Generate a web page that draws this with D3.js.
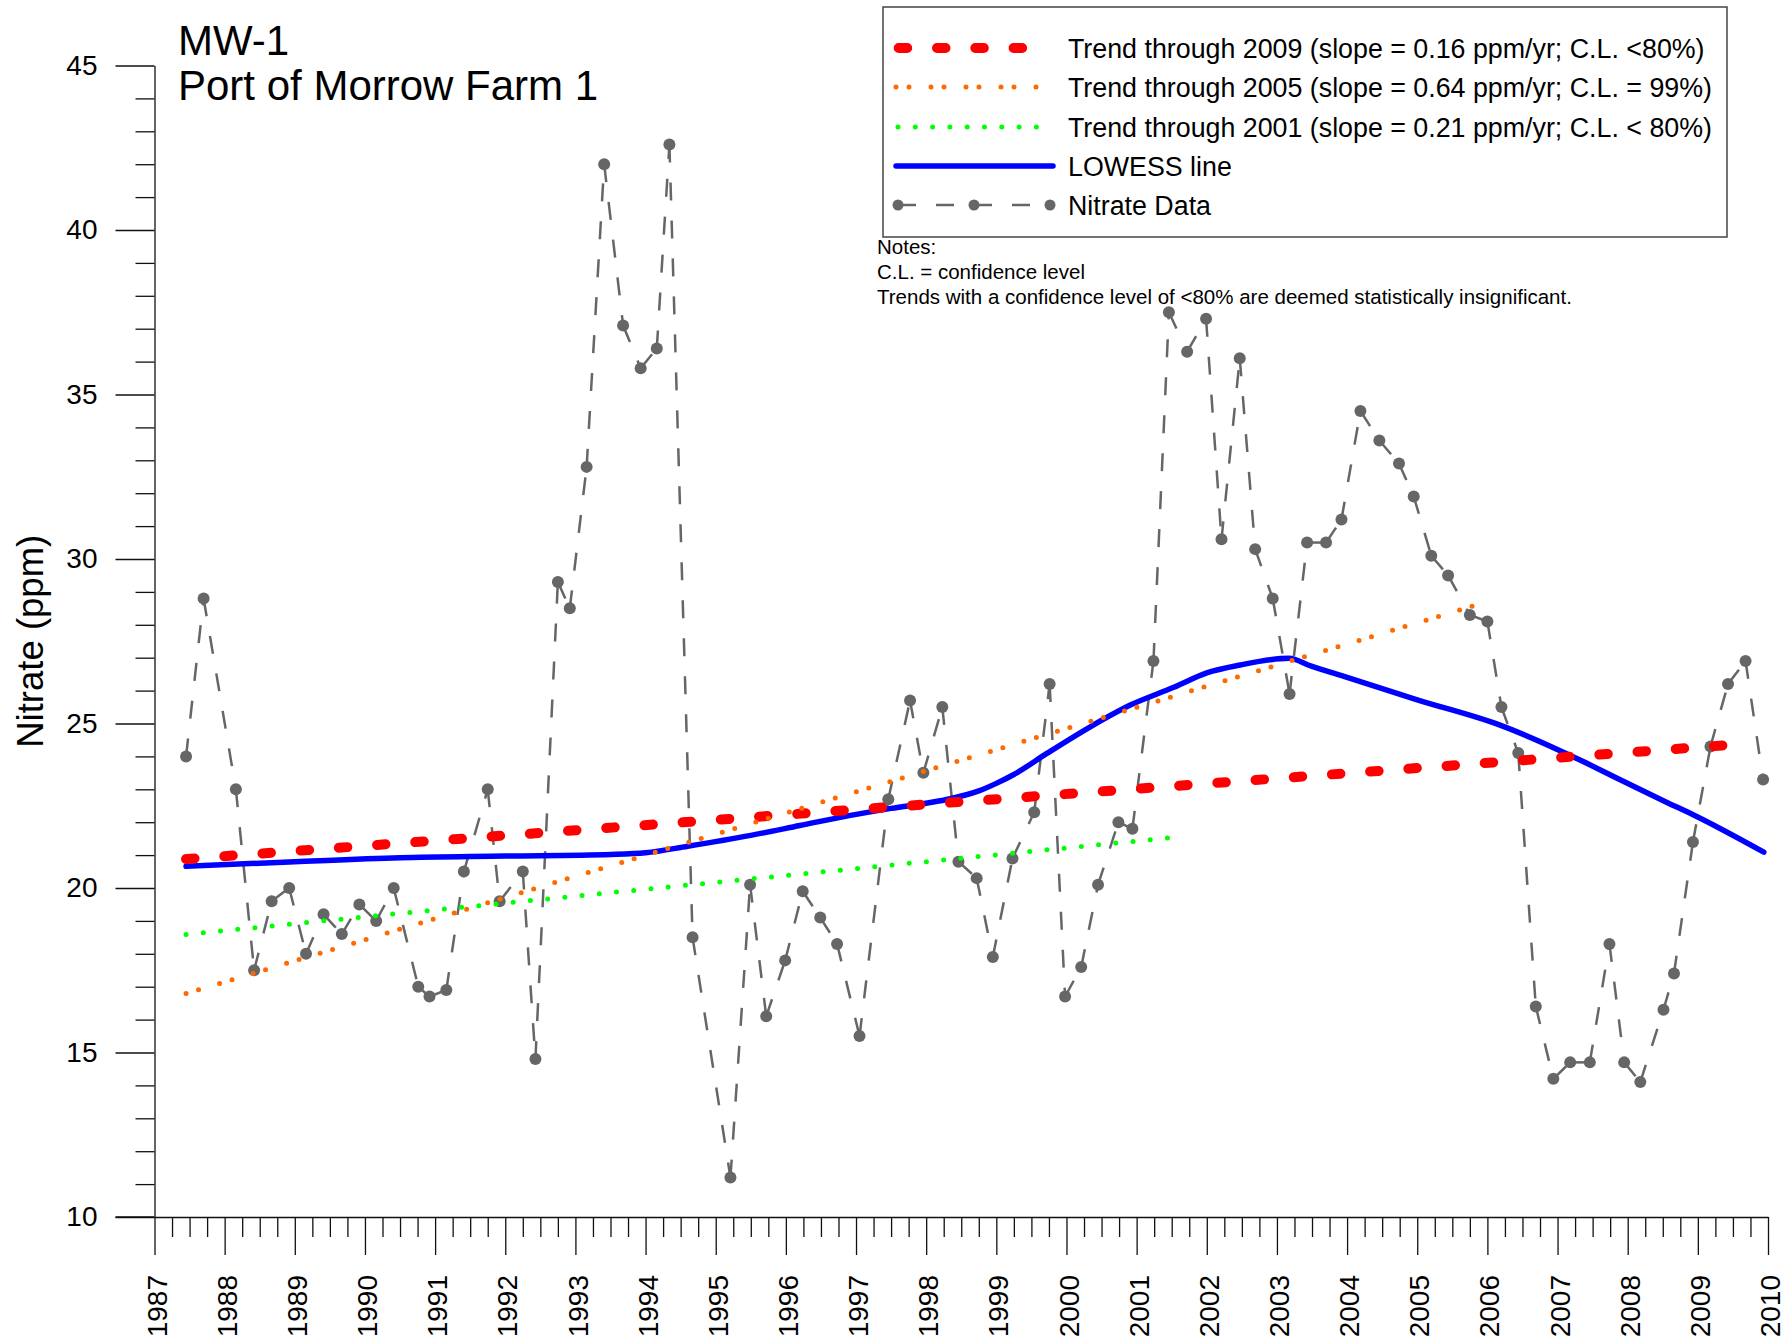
<!DOCTYPE html>
<html><head><meta charset="utf-8">
<script src="https://cdn.jsdelivr.net/npm/d3@7"></script>
<style>
body{margin:0;background:#fff}
svg{display:block;font-family:Arial,"Liberation Sans",Helvetica,sans-serif}
</style></head><body>
<svg id="chart" width="1782" height="1340"></svg>
<script>
// ---------------- DATA ----------------
const titleLines = ["MW-1", "Port of Morrow Farm 1"];
const yAxisTitle = "Nitrate (ppm)";

const sampleDates = [
  1987.45,1987.70,1988.16,1988.42,1988.67,1988.92,1989.16,1989.41,1989.67,1989.92,
  1990.16,1990.41,1990.76,1990.92,1991.16,1991.41,1991.75,1991.92,1992.25,1992.43,
  1992.75,1992.92,1993.16,1993.41,1993.68,1993.93,1994.16,1994.34,1994.67,1995.21,
  1995.49,1995.72,1995.99,1996.24,1996.49,1996.73,1997.05,1997.46,1997.77,1997.96,
  1998.23,1998.46,1998.72,1998.95,1999.23,1999.54,1999.76,1999.98,2000.21,2000.45,
  2000.74,2000.94,2001.24,2001.46,2001.72,2001.99,2002.21,2002.47,2002.69,2002.94,
  2003.18,2003.43,2003.70,2003.92,2004.19,2004.46,2004.74,2004.95,2005.20,2005.44,
  2005.75,2006.00,2006.20,2006.44,2006.69,2006.94,2007.18,2007.46,2007.74,2007.95,
  2008.18,2008.51,2008.66,2008.93,2009.18,2009.43,2009.68,2009.93
];
const nitrate = [
  24.0,28.8,23.0,17.5,19.6,20.0,18.0,19.2,18.6,19.5,
  19.0,20.0,17.0,16.7,16.9,20.5,23.0,19.6,20.5,14.8,
  29.3,28.5,32.8,42.0,37.1,35.8,36.4,42.6,18.5,11.2,
  20.1,16.1,17.8,19.9,19.1,18.3,15.5,22.7,25.7,23.5,
  25.5,20.8,20.3,17.9,20.9,22.3,26.2,16.7,17.6,20.1,
  22.0,21.8,26.9,37.5,36.3,37.3,30.6,36.1,30.3,28.8,
  25.9,30.5,30.5,31.2,34.5,33.6,32.9,31.9,30.1,29.5,
  28.3,28.1,25.5,24.1,16.4,14.2,14.7,14.7,18.3,14.7,
  14.1,16.3,17.4,21.4,24.3,26.2,26.9,23.3
];

const lowessDates = [
  1987.45,1989.0,1990.5,1992.0,1993.5,1994.0,1994.6,1995.5,1996.2,1996.9,
  1997.5,1998.2,1998.75,1999.0,1999.25,1999.72,2000.34,2000.91,2001.53,2002.0,
  2002.48,2003.17,2003.48,2004.0,2005.0,2006.18,2007.32,2007.9,2008.56,2008.94,2009.94
];
const lowessValues = [
  20.66,20.8,20.92,20.97,21.02,21.07,21.27,21.6,21.9,22.2,
  22.42,22.65,22.95,23.18,23.45,24.09,24.9,25.56,26.1,26.54,
  26.78,26.98,26.75,26.4,25.72,24.95,23.89,23.28,22.6,22.22,21.09
];

const trendLabels = [
  "Trend through 2009 (slope = 0.16 ppm/yr; C.L. <80%)",
  "Trend through 2005 (slope = 0.64 ppm/yr; C.L. = 99%)",
  "Trend through 2001 (slope = 0.21 ppm/yr; C.L. < 80%)"
];
const trendStartDates = [1987.45, 1987.45, 1987.45];
const trendEndDates   = [2009.47, 2005.89, 2001.68];
const trendStartValues = [20.88, 16.79, 18.59];
const trendEndValues   = [24.35, 28.63, 21.57];

const otherLegendLabels = ["LOWESS line", "Nitrate Data"];
const notes = [
  "Notes:",
  "C.L. = confidence level",
  "Trends with a confidence level of <80% are deemed statistically insignificant."
];

const xTickYears = d3.range(1987, 2011);
const yTickValues = [10, 15, 20, 25, 30, 35, 40, 45];

// ---------------- STYLES ----------------
const trendStyles = [
  {stroke:"#ff0000", width:10, dash:"8.5 29.8"},
  {stroke:"#ff6a00", width:5,  dash:"0 13 0 22"},
  {stroke:"#00ff00", width:5,  dash:"0 17.3"}
];

// ---------------- CHART ----------------
const svg = d3.select("#chart");
const x = d3.scaleLinear().domain([1987, 2010]).range([154.5, 1768]);
const y = d3.scaleLinear().domain([10, 45]).range([1217, 65.5]);

// Y axis minor ticks
svg.append("g").attr("transform","translate(154.5,0)")
  .call(d3.axisLeft(y).tickValues(d3.range(10,46).filter(v => v % 5 !== 0)).tickSize(19).tickFormat(""))
  .call(g => g.select(".domain").remove())
  .call(g => g.selectAll("line").attr("stroke","#111").attr("stroke-width",1.3));

// Y axis major
svg.append("g").attr("transform","translate(154.5,0)")
  .call(d3.axisLeft(y).tickValues(yTickValues).tickSize(39).tickSizeOuter(0).tickPadding(18))
  .call(g => g.select(".domain").attr("stroke","#111").attr("stroke-width",1.3))
  .call(g => g.selectAll("line").attr("stroke","#111").attr("stroke-width",1.3))
  .call(g => g.selectAll("text").attr("font-size",28).attr("font-family",'Arial,"Liberation Sans",sans-serif').attr("fill","#000"));

// X axis minor ticks (quarters)
const quarters = [];
xTickYears.slice(0,-1).forEach(yr => [0.25,0.5,0.75].forEach(q => quarters.push(yr+q)));
svg.append("g").attr("transform","translate(0,1217)")
  .call(d3.axisBottom(x).tickValues(quarters).tickSize(20).tickFormat(""))
  .call(g => g.select(".domain").remove())
  .call(g => g.selectAll("line").attr("stroke","#111").attr("stroke-width",1.3));

// X axis major
svg.append("g").attr("transform","translate(0,1217)")
  .call(d3.axisBottom(x).tickValues(xTickYears).tickSize(38).tickSizeOuter(0).tickFormat(d3.format("d")))
  .call(g => g.select(".domain").attr("stroke","#111").attr("stroke-width",1.3))
  .call(g => g.selectAll("line").attr("stroke","#111").attr("stroke-width",1.3))
  .call(g => g.selectAll("text")
      .attr("font-size",28).attr("font-family",'Arial,"Liberation Sans",sans-serif').attr("fill","#000")
      .attr("x",null).attr("y",null).attr("dy","0.36em")
      .attr("text-anchor","end")
      .attr("transform","translate(1.5,58) rotate(-90)"));

// x axis line extension to the left of y axis
svg.append("line")
  .attr("x1", x(1987) - 39).attr("x2", x(1987))
  .attr("y1", y(10)).attr("y2", y(10))
  .attr("stroke","#111").attr("stroke-width",1.3);

// Y axis title
svg.append("text")
  .attr("transform", `translate(43,${(y(10)+y(45))/2}) rotate(-90)`)
  .attr("text-anchor","middle").attr("font-size",36.5).attr("fill","#000")
  .text(yAxisTitle);

// Title
svg.append("g").selectAll("text").data(titleLines).join("text")
  .attr("x",178).attr("y",(d,i)=> 55 + i*45)
  .attr("font-size",42).attr("fill","#000").text(d=>d);

// ---------------- DATA SERIES ----------------
const pts = sampleDates.map((d,i) => [x(d), y(nitrate[i])]);
const line = d3.line();

svg.append("g").selectAll("path").data(d3.pairs(pts)).join("path")
  .attr("d", d => line(d))
  .attr("fill","none").attr("stroke","#666").attr("stroke-width",2.5)
  .attr("stroke-dasharray","18 20");

svg.append("g").selectAll("circle").data(pts).join("circle")
  .attr("cx", d => d[0]).attr("cy", d => d[1]).attr("r",6).attr("fill","#666");

// LOWESS
const lowessPts = lowessDates.map((d,i) => [d, lowessValues[i]]);
svg.append("path")
  .attr("d", d3.line().x(d => x(d[0])).y(d => y(d[1])).curve(d3.curveMonotoneX)(lowessPts))
  .attr("fill","none").attr("stroke","#0000ff").attr("stroke-width",5.5)
  .attr("stroke-linecap","round").attr("stroke-linejoin","round");

// Trend lines
trendLabels.forEach((lbl,i) => {
  const s = trendStyles[i];
  svg.append("line")
    .attr("x1", x(trendStartDates[i])).attr("y1", y(trendStartValues[i]))
    .attr("x2", x(trendEndDates[i])).attr("y2", y(trendEndValues[i]))
    .attr("stroke", s.stroke).attr("stroke-width", s.width)
    .attr("stroke-linecap","round").attr("stroke-dasharray", s.dash);
});

// ---------------- LEGEND ----------------
const leg = svg.append("g");
leg.append("rect").attr("x",883).attr("y",7).attr("width",844).attr("height",230)
  .attr("fill","#fff").attr("stroke","#444").attr("stroke-width",1.5);

const rowY = [48, 87, 127, 166, 205];
const sampleRanges = [[898.7,1023],[896,1044],[898,1039],[896,1053]];
trendLabels.forEach((lbl,i) => {
  const s = trendStyles[i];
  leg.append("line").attr("x1",sampleRanges[i][0]).attr("x2",sampleRanges[i][1])
    .attr("y1",rowY[i]).attr("y2",rowY[i])
    .attr("stroke",s.stroke).attr("stroke-width",s.width)
    .attr("stroke-linecap","round").attr("stroke-dasharray",s.dash);
});
leg.append("line").attr("x1",sampleRanges[3][0]).attr("x2",sampleRanges[3][1])
  .attr("y1",rowY[3]).attr("y2",rowY[3])
  .attr("stroke","#0000ff").attr("stroke-width",5.5).attr("stroke-linecap","round");

const legDots = [898, 974, 1050];
d3.pairs(legDots).forEach(p => {
  leg.append("line").attr("x1",p[0]).attr("x2",p[1]).attr("y1",rowY[4]).attr("y2",rowY[4])
    .attr("stroke","#666").attr("stroke-width",2.5).attr("stroke-dasharray","18 20");
});
leg.selectAll("circle").data(legDots).join("circle")
  .attr("cx",d=>d).attr("cy",rowY[4]).attr("r",5.5).attr("fill","#666");

const legendLabels = trendLabels.concat(otherLegendLabels);
leg.selectAll("text").data(legendLabels).join("text")
  .attr("x",1068).attr("y",(d,i)=>rowY[i] + 9.5)
  .attr("font-size",26.8).attr("fill","#000").text(d=>d);

// Notes
svg.append("g").selectAll("text").data(notes).join("text")
  .attr("x",877).attr("y",(d,i)=>254 + i*25)
  .attr("font-size",20.5).attr("fill","#000").text(d=>d);
</script>
</body></html>
